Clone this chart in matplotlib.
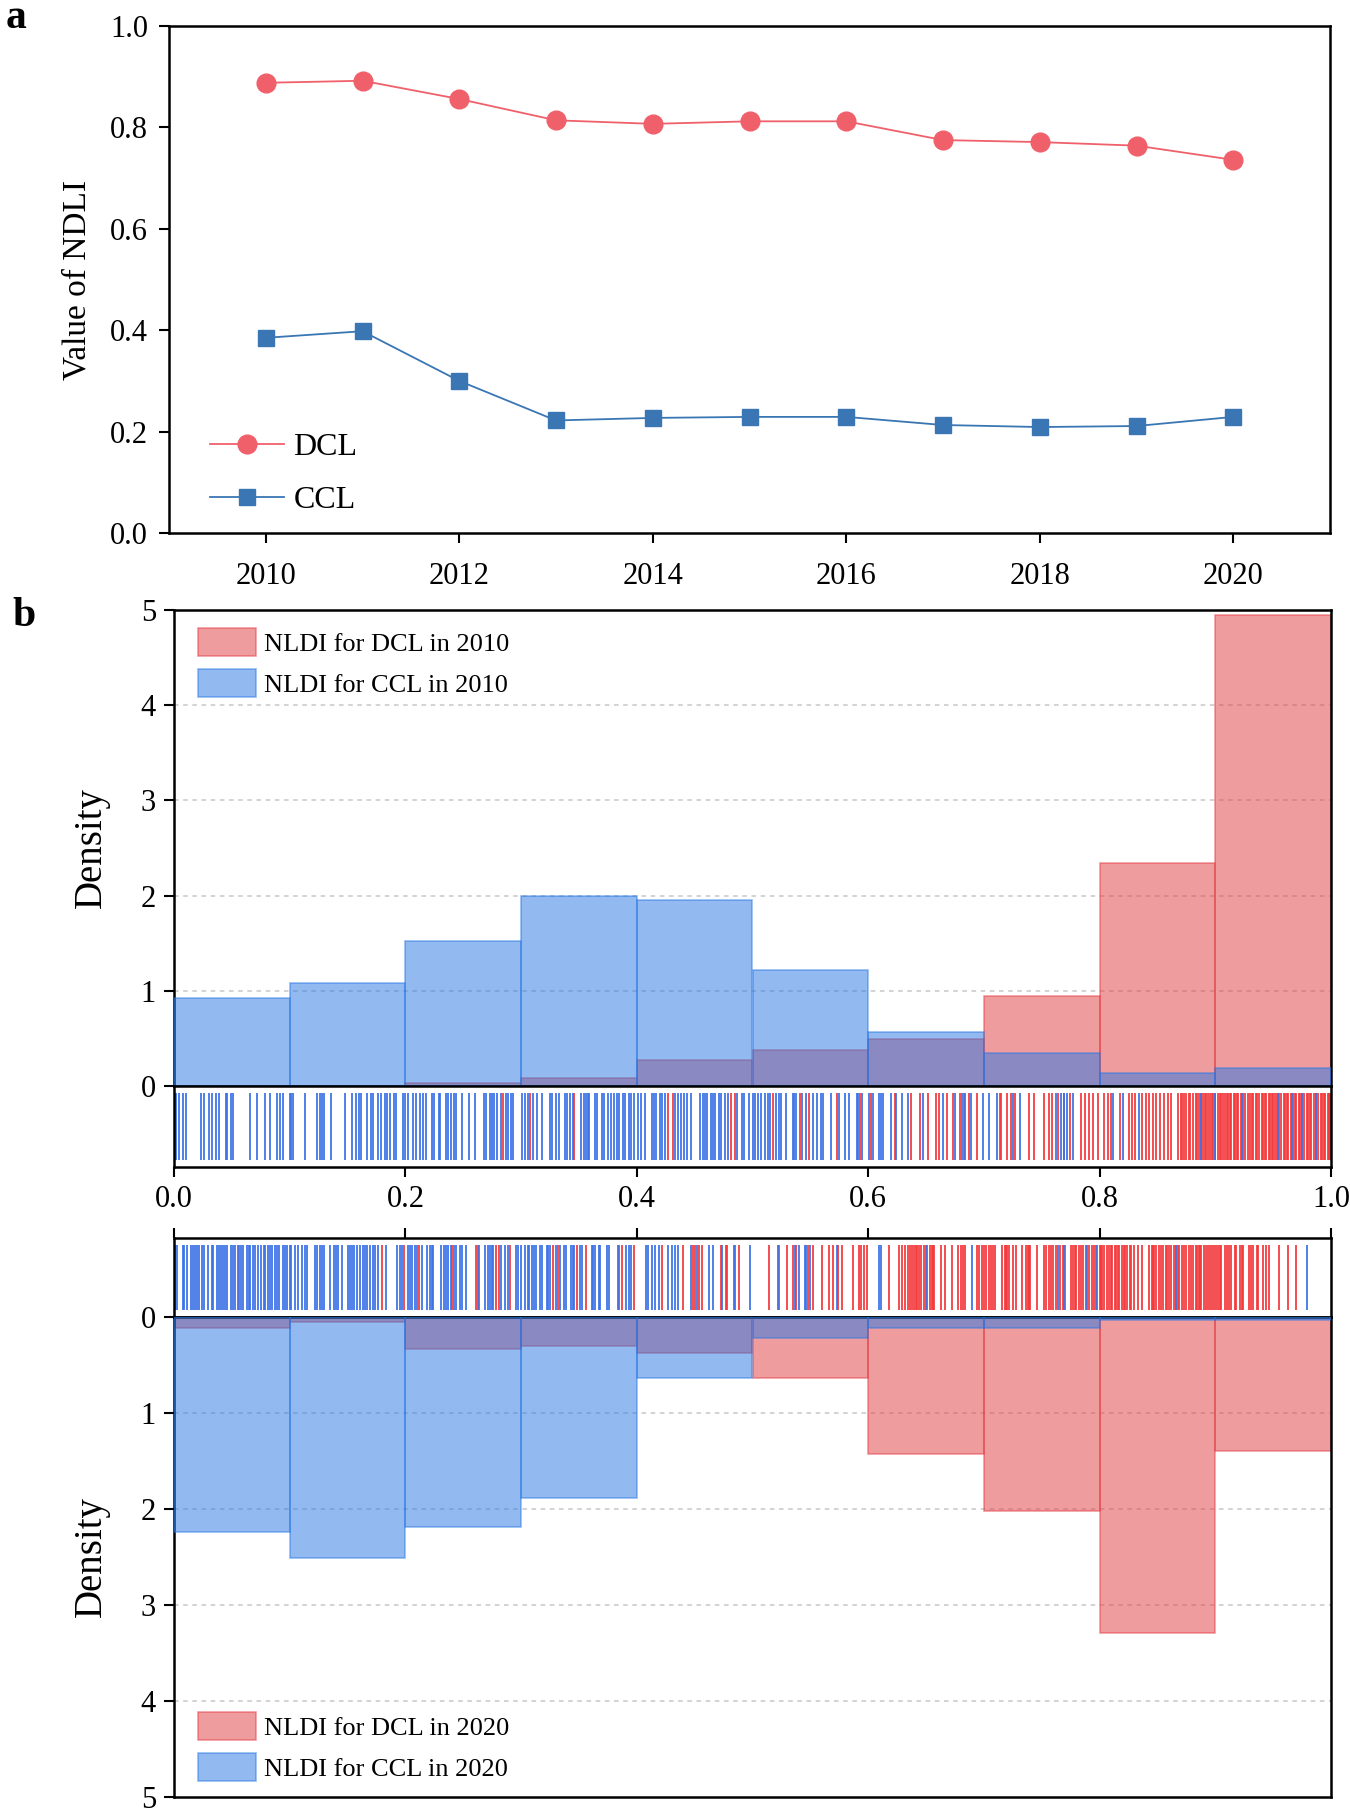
import matplotlib
matplotlib.use('Agg')
import matplotlib.pyplot as plt
from matplotlib.patches import Patch

plt.rcParams['font.family'] = ['Liberation Serif', 'DejaVu Serif']

# panel a: NDLI values per year
years = [2010, 2011, 2012, 2013, 2014, 2015, 2016, 2017, 2018, 2019, 2020]
ndli_dcl = [0.888, 0.892, 0.856, 0.814, 0.807, 0.812, 0.812, 0.775, 0.771, 0.764, 0.736]
ndli_ccl = [0.385, 0.398, 0.300, 0.222, 0.227, 0.229, 0.229, 0.213, 0.209, 0.211, 0.229]

# panel b: histogram densities (bin width 0.1)
bin_lefts = [0.0, 0.1, 0.2, 0.3, 0.4, 0.5, 0.6, 0.7, 0.8, 0.9]
dens_dcl_2010 = [0.00, 0.00, 0.03, 0.08, 0.27, 0.38, 0.49, 0.95, 2.34, 4.95]
dens_ccl_2010 = [0.925, 1.08, 1.52, 2.00, 1.95, 1.22, 0.57, 0.35, 0.14, 0.19]
dens_dcl_2020 = [0.11, 0.05, 0.33, 0.30, 0.38, 0.64, 1.43, 2.02, 3.29, 1.40]
dens_ccl_2020 = [2.24, 2.51, 2.19, 1.89, 0.64, 0.22, 0.11, 0.11, 0.03, 0.03]

# rug positions (individual NLDI values)
rug_ccl_2010 = [0.001, 0.002, 0.004, 0.008, 0.010, 0.023, 0.026, 0.030, 0.033, 0.036, 0.039, 0.045,
                0.046, 0.049, 0.051, 0.066, 0.072, 0.079, 0.083, 0.089, 0.092, 0.094, 0.100, 0.101,
                0.103, 0.113, 0.124, 0.126, 0.128, 0.130, 0.136, 0.148, 0.154, 0.157, 0.160, 0.162,
                0.167, 0.170, 0.172, 0.176, 0.179, 0.182, 0.184, 0.187, 0.190, 0.192, 0.198, 0.200,
                0.202, 0.207, 0.209, 0.213, 0.215, 0.218, 0.223, 0.225, 0.229, 0.230, 0.235, 0.237,
                0.239, 0.242, 0.244,
                0.249, 0.255, 0.260, 0.268, 0.270, 0.273, 0.275, 0.277, 0.279, 0.283, 0.287, 0.289,
                0.291, 0.293, 0.301, 0.303, 0.306, 0.310, 0.314, 0.318, 0.325, 0.327, 0.330, 0.333,
                0.338, 0.340, 0.342, 0.345, 0.352, 0.354, 0.356, 0.358, 0.359, 0.364, 0.366, 0.370,
                0.372, 0.375, 0.378, 0.380, 0.383, 0.385, 0.388, 0.390, 0.393, 0.395, 0.398, 0.401,
                0.404, 0.407, 0.413, 0.415, 0.417, 0.420, 0.422, 0.424, 0.433, 0.436, 0.438, 0.441,
                0.443, 0.447, 0.455, 0.457, 0.459, 0.461, 0.464, 0.466, 0.468, 0.471, 0.473, 0.476,
                0.479, 0.487, 0.491, 0.493, 0.497,
                0.500, 0.502, 0.505, 0.507, 0.511, 0.513, 0.515, 0.520, 0.523, 0.525, 0.529, 0.535,
                0.536, 0.538, 0.543, 0.546, 0.552, 0.556, 0.559, 0.561, 0.568, 0.575, 0.580, 0.583,
                0.590, 0.591, 0.595, 0.601, 0.604, 0.609, 0.611, 0.613, 0.620, 0.624, 0.629, 0.634,
                0.647, 0.665, 0.675, 0.681, 0.684, 0.689, 0.699, 0.704, 0.711, 0.725, 0.731,
                0.762, 0.767, 0.769, 0.772, 0.777, 0.812, 0.820, 0.834, 0.888, 0.900, 0.923, 0.954,
                0.966, 0.975, 0.987]
rug_dcl_2010 = [0.284, 0.308, 0.346, 0.427, 0.431, 0.481, 0.485,
                0.518, 0.541, 0.549, 0.573, 0.593, 0.602, 0.623, 0.637, 0.645, 0.652, 0.659, 0.661,
                0.668, 0.673, 0.679, 0.683, 0.687, 0.694, 0.714, 0.715, 0.720, 0.723, 0.727, 0.739,
                0.743,
                0.752, 0.756, 0.759, 0.764, 0.769, 0.774, 0.784, 0.787, 0.791, 0.794, 0.799, 0.804,
                0.807, 0.810, 0.818, 0.825, 0.828, 0.831, 0.837, 0.840, 0.843, 0.846, 0.849, 0.852,
                0.856, 0.859, 0.862, 0.868, 0.871, 0.873, 0.875, 0.878, 0.881, 0.884, 0.886, 0.889,
                0.892, 0.895, 0.898, 0.902, 0.905, 0.908, 0.911, 0.914, 0.917, 0.920, 0.924, 0.930,
                0.933, 0.936, 0.938, 0.941, 0.944, 0.947, 0.950, 0.953, 0.957, 0.960, 0.963, 0.967,
                0.970, 0.973, 0.977, 0.980, 0.983, 0.989, 0.992, 0.995, 0.998,
                0.870, 0.877, 0.883, 0.888, 0.891, 0.894, 0.897, 0.900, 0.904, 0.907, 0.910, 0.913,
                0.916, 0.919, 0.922, 0.926, 0.928, 0.932, 0.935, 0.940, 0.943, 0.946, 0.949, 0.952,
                0.955, 0.959, 0.962, 0.965, 0.969, 0.972, 0.975, 0.979, 0.982, 0.985, 0.987, 0.991,
                0.994, 0.997, 0.999]
rug_ccl_2020 = [0.001, 0.003, 0.008, 0.009, 0.011, 0.015, 0.016, 0.018, 0.020, 0.022, 0.024, 0.026,
                0.029, 0.033, 0.034, 0.037, 0.039, 0.041, 0.042, 0.044, 0.046, 0.049, 0.051, 0.053,
                0.055, 0.058, 0.060, 0.063, 0.065, 0.066, 0.068, 0.070, 0.073, 0.075, 0.078, 0.079,
                0.081, 0.083, 0.085, 0.087, 0.089, 0.091, 0.094, 0.096, 0.098, 0.100, 0.101, 0.105,
                0.107, 0.111, 0.113, 0.115, 0.122, 0.124, 0.126, 0.128, 0.130, 0.135, 0.138, 0.140,
                0.142, 0.145, 0.150, 0.152, 0.154, 0.156, 0.158, 0.161, 0.163, 0.165, 0.167, 0.169,
                0.172, 0.174, 0.176, 0.183, 0.193, 0.195, 0.197, 0.202, 0.204, 0.206, 0.208, 0.210,
                0.214, 0.219, 0.221, 0.223, 0.224, 0.231, 0.233, 0.235, 0.237, 0.239, 0.242, 0.244,
                0.247,
                0.249, 0.252, 0.264, 0.269, 0.271, 0.273, 0.275, 0.276, 0.283, 0.286, 0.289, 0.296,
                0.297, 0.300, 0.303, 0.306, 0.307, 0.309, 0.311, 0.313, 0.316, 0.318, 0.322, 0.323,
                0.325, 0.330, 0.334, 0.337, 0.339, 0.343, 0.345, 0.346, 0.351, 0.353, 0.361, 0.362,
                0.364, 0.367, 0.368, 0.374, 0.376, 0.385, 0.391, 0.393, 0.395, 0.408, 0.410, 0.413,
                0.416, 0.419, 0.427, 0.430, 0.433, 0.436, 0.447, 0.452, 0.462, 0.466, 0.474, 0.484,
                0.485, 0.498,
                0.522, 0.537, 0.540, 0.545, 0.546, 0.550, 0.573, 0.609, 0.611, 0.651, 0.690,
                0.764, 0.769, 0.788, 0.798, 0.866, 0.979]
rug_dcl_2020 = [0.056, 0.180, 0.199, 0.212, 0.240,
                0.261, 0.263, 0.278, 0.281, 0.290, 0.328, 0.332, 0.348, 0.356, 0.384, 0.387, 0.398,
                0.422, 0.440, 0.449, 0.450, 0.454, 0.456, 0.473, 0.477, 0.478, 0.488,
                0.514, 0.523, 0.530, 0.535, 0.538, 0.548, 0.552, 0.560, 0.566, 0.570, 0.574, 0.577,
                0.587, 0.592, 0.594, 0.596, 0.599, 0.618, 0.627, 0.629, 0.632, 0.634, 0.636, 0.638,
                0.640, 0.642, 0.644, 0.648, 0.653, 0.655, 0.657, 0.663, 0.666, 0.672, 0.678, 0.680,
                0.682, 0.684, 0.694, 0.696, 0.698, 0.702, 0.704, 0.706, 0.710, 0.716, 0.718, 0.720,
                0.722, 0.725, 0.728, 0.733, 0.736, 0.738, 0.740, 0.746,
                0.752, 0.754, 0.756, 0.758, 0.760, 0.762, 0.766, 0.768, 0.770, 0.775, 0.777, 0.780,
                0.782, 0.784, 0.786, 0.791, 0.793, 0.795, 0.800, 0.802, 0.804, 0.806, 0.808, 0.811,
                0.814, 0.817, 0.819, 0.822, 0.824, 0.827, 0.833, 0.837, 0.843, 0.845, 0.847, 0.849,
                0.853, 0.855, 0.858, 0.860, 0.862, 0.866, 0.869, 0.871, 0.873, 0.875, 0.879, 0.881,
                0.884, 0.886, 0.888, 0.890, 0.892, 0.895, 0.897, 0.899, 0.902, 0.905, 0.910, 0.912,
                0.914, 0.918, 0.921, 0.924, 0.929, 0.931, 0.933, 0.937, 0.941, 0.944, 0.946, 0.955,
                0.963, 0.970,
                0.779, 0.789, 0.797, 0.801, 0.810, 0.813, 0.816, 0.821, 0.826, 0.830, 0.846, 0.851,
                0.857, 0.864, 0.868, 0.877, 0.883, 0.887, 0.894, 0.901, 0.904, 0.908, 0.917, 0.923,
                0.936, 0.641, 0.646, 0.650, 0.656, 0.700, 0.708, 0.719, 0.739]

RED_LINE = '#f0606a'
BLUE_LINE = '#3a76b4'
RED = '#e13b41'
BLUE = '#2777e3'
RUG_RED = '#f23a3c'
RUG_BLUE = '#3c72e6'

W, H = 1350, 1814


def px_axes(l, t, r, b):
    return fig.add_axes([l / W, 1 - b / H, (r - l) / W, (b - t) / H])


def style_spines(ax):
    for s in ax.spines.values():
        s.set_linewidth(1.8)


fig = plt.figure(figsize=(W / 100, H / 100), dpi=100)

# ---------- panel a ----------
ax_a = px_axes(169, 26, 1330, 533)
ax_a.plot(years, ndli_dcl, color=RED_LINE, lw=1.3, marker='o', ms=13.5, label='DCL')
ax_a.plot(years, ndli_ccl, color=BLUE_LINE, lw=1.3, marker='s', ms=12, label='CCL')
ax_a.set_xlim(2009, 2021)
ax_a.set_ylim(0, 1.0)
ax_a.set_xticks([2010, 2012, 2014, 2016, 2018, 2020])
ax_a.set_yticks([0.0, 0.2, 0.4, 0.6, 0.8, 1.0])
ax_a.set_yticklabels(['0.0', '0.2', '0.4', '0.6', '0.8', '1.0'])
ax_a.tick_params(direction='out', length=7, width=1.5, labelsize=22, pad=8)
ax_a.tick_params(axis='x', pad=14)
style_spines(ax_a)
ax_a.set_ylabel('Value of NDLI', fontsize=24)
ax_a.yaxis.set_label_coords(-0.066, 0.5)
ax_a.legend(loc='lower left', bbox_to_anchor=(0.008, -0.028), frameon=False, fontsize=23,
            handlelength=2.3, handletextpad=0.3, labelspacing=0.75, borderaxespad=0.6)
fig.text(6 / W, 1 - 28 / H, 'a', fontsize=30, fontweight='bold', va='baseline', ha='left')

# ---------- panel b (2010) ----------
ax_h1 = px_axes(174, 610, 1331, 1086)
ax_r1 = px_axes(174, 1086, 1331, 1167)
ax_r2 = px_axes(174, 1238, 1331, 1317)
ax_h2 = px_axes(174, 1317, 1331, 1797)


def draw_hist(ax, dcl, ccl):
    for y in [1, 2, 3, 4]:
        ax.axhline(y, color='#c8c8c8', lw=1.1, ls=(0, (3, 3)), zorder=0)
    ax.bar(bin_lefts, dcl, width=0.1, align='edge', color=RED, edgecolor=RED,
           alpha=0.5, lw=1.2, zorder=2)
    ax.bar(bin_lefts, ccl, width=0.1, align='edge', color=BLUE, edgecolor=BLUE,
           alpha=0.5, lw=1.2, zorder=3)
    ax.set_xlim(0, 1)
    ax.set_xticks([])
    ax.set_yticks([0, 1, 2, 3, 4, 5])
    ax.tick_params(direction='out', length=7, width=1.5, labelsize=22, pad=6)
    style_spines(ax)
    ax.set_ylabel('Density', fontsize=28)
    ax.yaxis.set_label_coords(-0.055, 0.5)


def draw_rug(ax, dcl, ccl):
    ax.vlines(dcl, 0.09, 0.91, color=RUG_RED, lw=1.4, alpha=0.9)
    ax.vlines(ccl, 0.09, 0.91, color=RUG_BLUE, lw=1.4, alpha=0.9)
    ax.set_xlim(0, 1)
    ax.set_ylim(0, 1)
    ax.set_yticks([])
    ax.set_xticks([0.0, 0.2, 0.4, 0.6, 0.8, 1.0])
    style_spines(ax)


draw_hist(ax_h1, dens_dcl_2010, dens_ccl_2010)
ax_h1.set_ylim(0, 5)
draw_rug(ax_r1, rug_dcl_2010, rug_ccl_2010)
ax_r1.set_xticklabels(['0.0', '0.2', '0.4', '0.6', '0.8', '1.0'])
ax_r1.tick_params(direction='out', length=7, width=1.5, labelsize=22, pad=6)

leg_kw = dict(frameon=False, fontsize=19, handlelength=2.2, handleheight=1.25,
              handletextpad=0.3, labelspacing=0.5)
leg1 = [Patch(facecolor=RED, edgecolor=RED, alpha=0.5, lw=1.2, label='NLDI for DCL in 2010'),
        Patch(facecolor=BLUE, edgecolor=BLUE, alpha=0.5, lw=1.2, label='NLDI for CCL in 2010')]
ax_h1.legend(handles=leg1, loc='upper left', bbox_to_anchor=(0.0, 1.012), borderaxespad=0.5,
             **leg_kw)
fig.text(12 / W, 1 - 626 / H, 'b', fontsize=30, fontweight='bold', va='baseline', ha='left')

# ---------- panel b (2020, mirrored) ----------
draw_hist(ax_h2, dens_dcl_2020, dens_ccl_2020)
ax_h2.set_ylim(5, 0)
draw_rug(ax_r2, rug_dcl_2020, rug_ccl_2020)
ax_r2.xaxis.tick_top()
ax_r2.tick_params(direction='out', length=7, width=1.5, labeltop=False, labelbottom=False)

leg2 = [Patch(facecolor=RED, edgecolor=RED, alpha=0.5, lw=1.2, label='NLDI for DCL in 2020'),
        Patch(facecolor=BLUE, edgecolor=BLUE, alpha=0.5, lw=1.2, label='NLDI for CCL in 2020')]
ax_h2.legend(handles=leg2, loc='lower left', bbox_to_anchor=(0.0, -0.016), borderaxespad=0.5,
             **leg_kw)

plt.savefig('out.png', dpi=100)
